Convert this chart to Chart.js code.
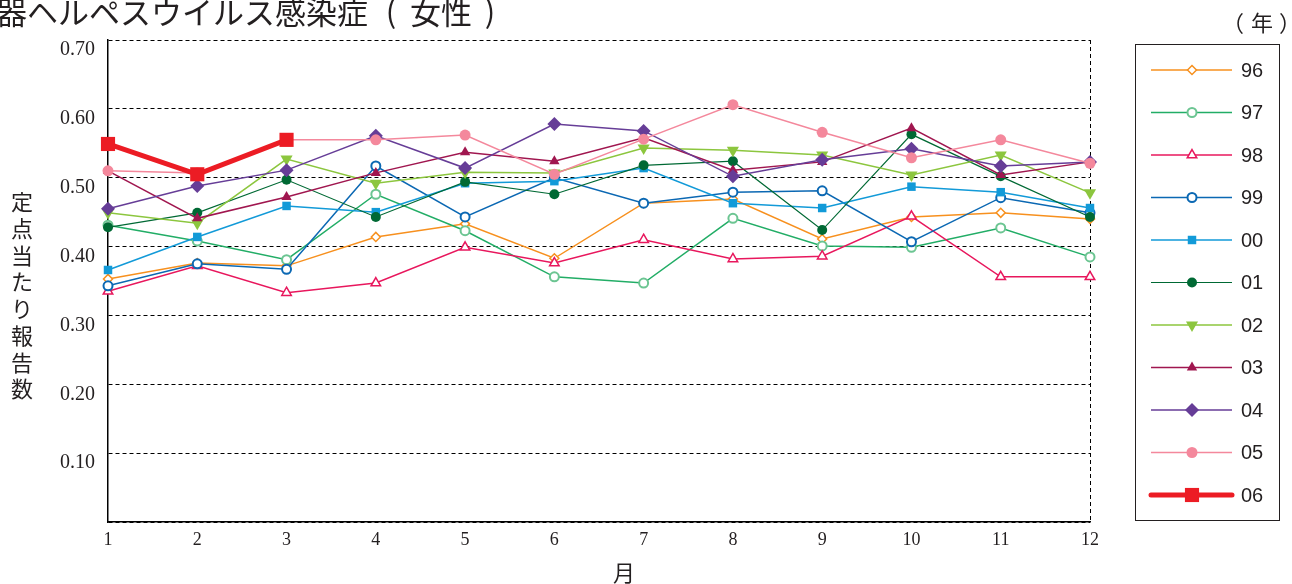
<!DOCTYPE html>
<html>
<head>
<meta charset="utf-8">
<script src="https://cdn.jsdelivr.net/npm/chart.js@4/dist/chart.umd.min.js"></script>
<style>
html,body{margin:0;padding:0;background:#fff;overflow:hidden;}
#wrap{width:1292px;height:584px;position:relative;}
</style>
</head>
<body>
<div id="wrap"><canvas id="c" width="1292" height="584"></canvas></div>
<script>
// ---- data ----
const months = ['1','2','3','4','5','6','7','8','9','10','11','12'];
const seriesNames = ['96','97','98','99','00','01','02','03','04','05','06'];
const yTickValues = [0.10,0.20,0.30,0.40,0.50,0.60,0.70];
const y96 = [0.353,0.376,0.372,0.414,0.433,0.383,0.463,0.469,0.411,0.443,0.449,0.440];
const y97 = [0.431,0.408,0.381,0.476,0.423,0.356,0.347,0.441,0.401,0.399,0.427,0.385];
const y98 = [0.335,0.372,0.333,0.347,0.399,0.376,0.410,0.382,0.386,0.444,0.356,0.356];
const y99 = [0.343,0.375,0.367,0.517,0.443,0.500,0.463,0.479,0.481,0.407,0.471,0.449];
const y00 = [0.366,0.414,0.459,0.450,0.492,0.495,0.514,0.463,0.456,0.487,0.479,0.456];
const y01 = [0.428,0.449,0.497,0.443,0.494,0.476,0.518,0.524,0.424,0.563,0.502,0.443];
const y02 = [0.449,0.434,0.527,0.492,0.508,0.507,0.543,0.540,0.533,0.504,0.533,0.478];
const y03 = [0.510,0.441,0.472,0.507,0.537,0.524,0.558,0.511,0.523,0.572,0.504,0.523];
const y04 = [0.455,0.488,0.511,0.561,0.514,0.578,0.568,0.502,0.526,0.542,0.517,0.523];
const y05 = [0.510,0.507,0.555,0.555,0.562,0.505,0.556,0.606,0.566,0.529,0.555,0.521];
const y06 = [0.549,0.505,0.555];
const seriesData = [y96,y97,y98,y99,y00,y01,y02,y03,y04,y05,y06];

// ---- styles ----
const styles = [
  {line:'#f7901e', mk:'#f7901e', fill:'#ffffff', ps:'rectRot', r:4.5, rot:0, bw:1.5, lw:1.5},
  {line:'#22ad66', mk:'#6cc592', fill:'#ffffff', ps:'circle', r:4.5, rot:0, bw:2, lw:1.5},
  {line:'#e8175d', mk:'#e8175d', fill:'#ffffff', ps:'triangle', r:5.5, rot:0, bw:1.5, lw:1.5},
  {line:'#0b68b3', mk:'#0b68b3', fill:'#ffffff', ps:'circle', r:4.5, rot:0, bw:2, lw:1.5},
  {line:'#129ad8', mk:'#129ad8', fill:'#129ad8', ps:'rect', r:6, rot:0, bw:0, lw:1.5},
  {line:'#006934', mk:'#006934', fill:'#006934', ps:'circle', r:5, rot:0, bw:0, lw:1.2},
  {line:'#8cc63e', mk:'#8cc63e', fill:'#8cc63e', ps:'triangle', r:7, rot:180, bw:0, lw:1.5},
  {line:'#a0164f', mk:'#a0164f', fill:'#a0164f', ps:'triangle', r:6, rot:0, bw:0, lw:1.5},
  {line:'#663d97', mk:'#663d97', fill:'#663d97', ps:'rectRot', r:7, rot:0, bw:0, lw:1.5},
  {line:'#f4889c', mk:'#f4889c', fill:'#f4889c', ps:'circle', r:5.5, rot:0, bw:0, lw:1.5},
  {line:'#ec1c24', mk:'#ec1c24', fill:'#ec1c24', ps:'rect', r:10, rot:0, bw:0, lw:5}
];

const datasets = seriesNames.map((n,i)=>({
  label: n,
  data: seriesData[i],
  borderColor: styles[i].line,
  borderWidth: styles[i].lw,
  pointStyle: styles[i].ps,
  pointRadius: styles[i].r,
  pointHoverRadius: styles[i].r,
  pointRotation: styles[i].rot,
  pointBackgroundColor: styles[i].fill,
  pointBorderColor: styles[i].mk,
  pointBorderWidth: styles[i].bw,
  tension: 0,
  fill: false,
  clip: false,
  order: seriesNames.length - 1 - i
}));

function drawMarker(ctx, st, x, y){
  ctx.save();
  ctx.fillStyle = st.fill;
  ctx.strokeStyle = st.mk;
  ctx.lineWidth = st.bw;
  const opts = {pointStyle: st.ps, rotation: st.rot, radius: st.r, borderWidth: st.bw};
  if (Chart.helpers && Chart.helpers.drawPoint) {
    Chart.helpers.drawPoint(ctx, opts, x, y);
  }
  ctx.restore();
}

const textPlugin = {
  id: 'texts',
  afterDraw(chart){
    const ctx = chart.ctx;
    ctx.save();
    ctx.fillStyle = '#231f20';
    // title
    ctx.font = '31px "Noto Sans CJK JP"';
    ctx.textAlign = 'left';
    ctx.textBaseline = 'alphabetic';
    ctx.fillText('性器ヘルペスウイルス感染症', -35, 24);
    ctx.textAlign = 'center';
    ctx.fillText('(', 391, 23);
    ctx.textAlign = 'left';
    ctx.fillText('女性', 410, 24);
    ctx.textAlign = 'center';
    ctx.fillText(')', 490, 23);
    // (年)
    ctx.font = '22px "Noto Sans CJK JP"';
    ctx.textAlign = 'center';
    ctx.textBaseline = 'middle';
    ctx.fillText('（', 1233, 23);
    ctx.fillText('年', 1262, 23);
    ctx.fillText('）', 1290, 23);
    // y axis title (vertical)
    const yt = '定点当たり報告数';
    ctx.font = '22px "Noto Sans CJK JP"';
    for (let i=0;i<yt.length;i++){
      ctx.fillText(yt[i], 22, 202 + i*26.7);
    }
    // x axis title
    ctx.font = '22px "Noto Sans CJK JP"';
    ctx.fillText('月', 624, 573);
    // legend
    const lx0 = 1135, ly0 = 44, lw = 144, lh = 476;
    ctx.strokeStyle = '#231f20';
    ctx.lineWidth = 1;
    ctx.strokeRect(lx0+0.5, ly0+0.5, lw, lh);
    for (let i=0;i<seriesNames.length;i++){
      const y = 70 + i*42.5;
      const st = styles[i];
      ctx.save();
      ctx.strokeStyle = st.line;
      ctx.lineWidth = st.lw;
      ctx.lineCap = i===10 ? 'round' : 'butt';
      ctx.beginPath();
      ctx.moveTo(1151, y);
      ctx.lineTo(1232, y);
      ctx.stroke();
      ctx.restore();
      drawMarker(ctx, st, 1192, y);
      ctx.fillStyle = '#231f20';
      ctx.font = '20px "Liberation Sans", Arial, sans-serif';
      ctx.textAlign = 'left';
      ctx.textBaseline = 'middle';
      ctx.fillText(seriesNames[i], 1241, y+1);
    }
    ctx.restore();
  }
};

new Chart(document.getElementById('c'), {
  type: 'line',
  data: { labels: months, datasets },
  options: {
    responsive: false,
    devicePixelRatio: 1,
    animation: false,
    events: [],
    layout: { padding: { top: 40, right: 202, left: 0, bottom: 0 } },
    plugins: { legend: { display: false }, title: { display: false }, tooltip: { enabled: false } },
    scales: {
      x: {
        type: 'category',
        offset: false,
        afterFit(s){ s.height = 62; },
        grid: {
          drawTicks: false,
          color: (c)=> (c.index === months.length-1 ? '#000' : 'rgba(0,0,0,0)'),
          lineWidth: 1
        },
        border: { display: true, color: '#000', width: 1.5, dash: [4,3] },
        ticks: {
          padding: 7,
          color: '#231f20',
          font: { family: '"Liberation Serif", "Times New Roman", serif', size: 18 },
          maxRotation: 0,
          autoSkip: false
        }
      },
      y: {
        min: 0,
        max: 0.7,
        afterFit(s){ s.width = 108; },
        afterBuildTicks(s){ s.ticks = [{value:0}].concat(yTickValues.map(v=>({value:v}))); },
        grid: { drawTicks: false, color: '#000', lineWidth: 1 },
        border: { display: true, color: '#000', width: 1.5, dash: [4,3] },
        ticks: {
          padding: 13,
          labelOffset: 10,
          color: '#231f20',
          font: { family: '"Liberation Serif", "Times New Roman", serif', size: 20 },
          callback: (v)=> (v === 0 ? '' : Number(v).toFixed(2))
        }
      }
    }
  },
  plugins: [textPlugin]
});
</script>
</body>
</html>
